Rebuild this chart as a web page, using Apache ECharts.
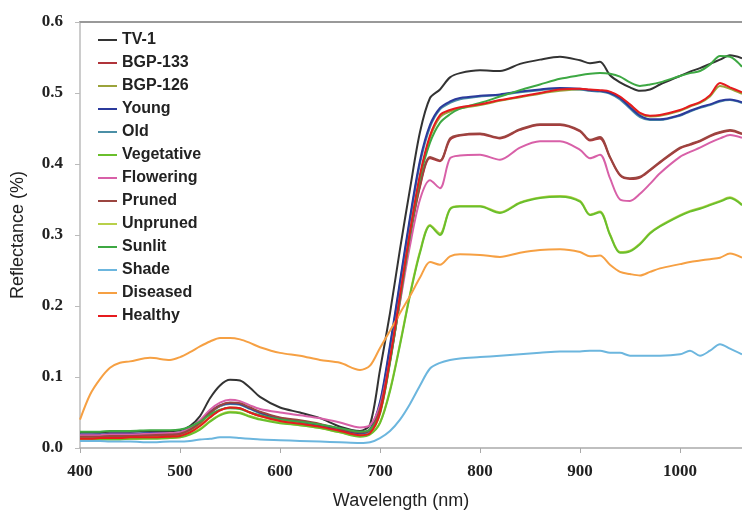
<!DOCTYPE html>
<html>
<head>
<meta charset="utf-8">
<script src="https://cdn.jsdelivr.net/npm/echarts@6/dist/echarts.min.js"></script>
<style>
  html, body { margin: 0; padding: 0; background: #fff; }
  #chart { width: 742px; height: 513px; }
</style>
</head>
<body>
<div id="chart"></div>
<script>
// wavelength (nm)
const wavelengths = [400,410,420,430,440,450,470,490,500,510,520,530,540,550,560,570,580,600,620,640,660,680,690,700,710,720,730,740,750,760,770,780,800,820,840,860,880,900,910,920,930,940,950,960,970,980,1000,1010,1020,1030,1040,1050,1062];

const yTicks = [0, 0.1, 0.2, 0.3, 0.4, 0.5, 0.6];

const tv1 = [0.022,0.022,0.022,0.023,0.023,0.023, 0.024,0.024,0.025,
  0.031,0.045,0.07,0.088,0.096,0.095,0.085,0.072, 0.057,0.05,0.042,0.03,0.024,
  0.033,0.11,0.19,0.28,0.365,0.445,0.493,0.505,0.522,0.528,
  0.532,0.531,0.541,0.547,0.551,0.546, 0.542,0.544,0.525,0.515,0.508,0.503,0.505,0.512,
  0.524,0.53,0.535,0.541,0.547,0.553,0.549];
const bgp133 = [0.015,0.015,0.016,0.016,0.016,0.017, 0.017,0.018,0.019,
  0.025,0.035,0.049,0.059,0.063,0.062,0.056,0.05, 0.042,0.038,0.033,0.026,0.021,
  0.025,0.053,0.122,0.207,0.297,0.368,0.408,0.404,0.434,0.44,
  0.442,0.436,0.448,0.455,0.455,0.446, 0.433,0.436,0.409,0.384,0.379,0.381,0.391,0.402,
  0.422,0.427,0.432,0.439,0.444,0.447,0.442];
const bgp126 = [0.014,0.014,0.014,0.015,0.015,0.015, 0.016,0.016,0.017,
  0.023,0.032,0.044,0.053,0.057,0.056,0.05,0.045, 0.038,0.034,0.03,0.024,0.018,
  0.021,0.048,0.122,0.212,0.302,0.382,0.437,0.466,0.474,0.478,
  0.483,0.489,0.494,0.499,0.503,0.505, 0.504,0.503,0.501,0.494,0.483,0.471,0.467,0.468,
  0.475,0.481,0.486,0.495,0.51,0.506,0.499];
const young = [0.019,0.019,0.019,0.02,0.02,0.02, 0.021,0.021,0.022,
  0.028,0.038,0.051,0.06,0.063,0.062,0.056,0.05, 0.042,0.037,0.032,0.026,0.021,
  0.026,0.065,0.145,0.235,0.325,0.405,0.455,0.479,0.488,0.493,
  0.496,0.498,0.502,0.505,0.507,0.506, 0.504,0.503,0.5,0.493,0.48,0.468,0.463,0.463,
  0.469,0.475,0.48,0.484,0.489,0.491,0.487];
const old = [0.018,0.018,0.019,0.019,0.019,0.02, 0.02,0.021,0.021,
  0.027,0.037,0.05,0.059,0.062,0.061,0.055,0.049, 0.041,0.037,0.032,0.026,0.02,
  0.025,0.062,0.141,0.231,0.321,0.401,0.452,0.477,0.486,0.491,
  0.495,0.497,0.501,0.504,0.506,0.505, 0.503,0.502,0.499,0.491,0.478,0.466,0.462,0.462,
  0.468,0.474,0.479,0.483,0.488,0.49,0.486];
const vegetative = [0.011,0.011,0.012,0.012,0.012,0.013, 0.013,0.014,0.015,
  0.019,0.026,0.037,0.046,0.05,0.049,0.044,0.04, 0.035,0.032,0.028,0.022,0.016,
  0.019,0.035,0.08,0.145,0.215,0.275,0.313,0.3,0.336,0.34,
  0.34,0.331,0.345,0.352,0.354,0.347, 0.328,0.332,0.3,0.275,0.277,0.287,0.302,0.312,
  0.327,0.333,0.337,0.342,0.347,0.352,0.342];
const flowering = [0.018,0.018,0.018,0.019,0.019,0.019, 0.02,0.021,0.022,
  0.028,0.039,0.054,0.064,0.068,0.066,0.06,0.055, 0.05,0.046,0.042,0.036,0.029,
  0.032,0.06,0.125,0.205,0.285,0.35,0.377,0.366,0.408,0.412,
  0.413,0.406,0.423,0.432,0.432,0.42, 0.408,0.413,0.38,0.35,0.348,0.358,0.372,0.387,
  0.41,0.417,0.423,0.43,0.436,0.441,0.437];
const pruned = [0.016,0.016,0.016,0.017,0.017,0.017, 0.018,0.019,0.02,
  0.026,0.036,0.05,0.06,0.064,0.063,0.057,0.051, 0.043,0.039,0.034,0.027,0.022,
  0.026,0.055,0.125,0.21,0.3,0.37,0.41,0.405,0.436,0.441,
  0.443,0.437,0.449,0.456,0.456,0.447, 0.434,0.438,0.41,0.385,0.38,0.382,0.392,0.403,
  0.423,0.428,0.433,0.44,0.445,0.448,0.443];
const unpruned = [0.012,0.012,0.012,0.013,0.013,0.013, 0.014,0.014,0.015,
  0.02,0.027,0.038,0.047,0.051,0.05,0.045,0.041, 0.036,0.032,0.028,0.022,0.017,
  0.02,0.036,0.082,0.147,0.217,0.277,0.314,0.302,0.337,0.341,
  0.341,0.332,0.346,0.353,0.355,0.348, 0.329,0.333,0.301,0.276,0.278,0.288,0.303,0.313,
  0.328,0.334,0.338,0.343,0.348,0.353,0.343];
const sunlit = [0.023,0.023,0.023,0.024,0.024,0.024, 0.025,0.025,0.026,
  0.03,0.037,0.047,0.054,0.056,0.055,0.05,0.046, 0.04,0.037,0.033,0.028,0.023,
  0.026,0.05,0.12,0.21,0.3,0.38,0.43,0.458,0.47,0.478,
  0.486,0.495,0.504,0.512,0.52,0.525, 0.527,0.528,0.527,0.523,0.515,0.51,0.512,0.515,
  0.524,0.528,0.531,0.54,0.552,0.551,0.537];
const shade = [0.01,0.01,0.01,0.009,0.009,0.009, 0.008,0.009,0.009,
  0.01,0.012,0.013,0.015,0.015,0.014,0.013,0.012, 0.011,0.01,0.009,0.008,0.007,
  0.008,0.014,0.024,0.04,0.062,0.088,0.112,0.12,0.124,0.126,
  0.128,0.13,0.132,0.134,0.136,0.136, 0.137,0.137,0.134,0.134,0.13,0.13,0.13,0.13,
  0.132,0.137,0.13,0.137,0.146,0.14,0.132];
const diseased = [0.04,0.075,0.097,0.113,0.12,0.122, 0.127,0.124,0.128,
  0.135,0.143,0.15,0.155,0.155,0.153,0.148,0.142, 0.134,0.13,0.124,0.12,0.11,
  0.116,0.141,0.165,0.19,0.214,0.24,0.262,0.258,0.27,0.273,
  0.272,0.269,0.275,0.279,0.28,0.276, 0.27,0.271,0.258,0.248,0.245,0.243,0.248,0.253,
  0.259,0.262,0.264,0.266,0.268,0.274,0.268];
const healthy = [0.013,0.013,0.014,0.014,0.014,0.015, 0.015,0.016,0.017,
  0.022,0.031,0.043,0.053,0.057,0.056,0.05,0.045, 0.038,0.034,0.03,0.024,0.018,
  0.021,0.05,0.125,0.215,0.305,0.385,0.44,0.469,0.476,0.48,
  0.484,0.49,0.495,0.5,0.505,0.506, 0.505,0.504,0.502,0.495,0.484,0.472,0.468,0.469,
  0.476,0.482,0.487,0.497,0.514,0.508,0.501];

const seriesNames = ['TV-1', 'BGP-133', 'BGP-126', 'Young', 'Old', 'Vegetative', 'Flowering', 'Pruned', 'Unpruned', 'Sunlit', 'Shade', 'Diseased', 'Healthy'];
const seriesData = [tv1, bgp133, bgp126, young, old, vegetative, flowering, pruned, unpruned, sunlit, shade, diseased, healthy];
const seriesColors = ['#333333', '#b0343a', '#9ba33b', '#2b3a9c', '#4b8fa6', '#6abf2c', '#d860a8', '#9b4540', '#b8d04a', '#3da843', '#6cb6de', '#f6a043', '#e61b1e'];
// these lie under other curves in the picture
const behind = ['BGP-133', 'BGP-126', 'Old', 'Unpruned'];

const labelFont = {
  fontFamily: 'Liberation Serif, Times New Roman, serif',
  fontWeight: 'bold',
  fontSize: 17,
  color: '#222'
};

const myChart = echarts.init(document.getElementById('chart'));
const option = {
  animation: false,
  backgroundColor: '#fff',
  legend: {
    orient: 'vertical',
    left: 98,
    top: 32,
    padding: 0,
    itemWidth: 19,
    itemHeight: 2,
    itemGap: 7,
    icon: 'rect',
    data: seriesNames,
    textStyle: {
      fontFamily: 'Liberation Sans, Arial, sans-serif',
      fontWeight: 'bold',
      fontSize: 16,
      lineHeight: 16,
      color: '#222'
    }
  },
  grid: {
    left: 80,
    right: 0,
    top: 22,
    bottom: 65,
    outerBoundsMode: 'none'
  },
  xAxis: [
    {
      type: 'value',
      min: 400,
      max: 1062,
      interval: 100,
      name: 'Wavelength (nm)',
      nameLocation: 'middle',
      nameGap: 44,
      nameTextStyle: {
        fontFamily: 'Liberation Sans, Arial, sans-serif',
        fontSize: 18,
        color: '#222',
        padding: [0, 20, 0, 0]
      },
      axisLine: { show: true, lineStyle: { color: '#aaa', width: 1.5 } },
      axisTick: { show: true, length: 5, lineStyle: { color: '#aaa' } },
      axisLabel: Object.assign({
        margin: 15,
        showMaxLabel: false,
        formatter: function (v) { return String(v); }
      }, labelFont),
      splitLine: { show: false }
    },
    {
      type: 'value',
      position: 'top',
      min: 400,
      max: 1062,
      axisLine: { show: true, lineStyle: { color: '#999', width: 2 } },
      axisTick: { show: false },
      axisLabel: { show: false },
      splitLine: { show: false }
    }
  ],
  yAxis: {
    type: 'value',
    min: 0,
    max: 0.6,
    interval: 0.1,
    name: 'Reflectance (%)',
    nameLocation: 'middle',
    nameGap: 53,
    nameTextStyle: {
      fontFamily: 'Liberation Sans, Arial, sans-serif',
      fontSize: 18,
      color: '#222'
    },
    axisLine: { show: true, lineStyle: { color: '#bbb', width: 1.5 } },
    axisTick: { show: true, length: 5, lineStyle: { color: '#bbb' } },
    axisLabel: Object.assign({
      margin: 17,
      formatter: function (v) {
        return yTicks.indexOf(Math.round(v * 10) / 10) >= 0 ? v.toFixed(1) : '';
      }
    }, labelFont),
    splitLine: { show: false }
  },
  series: seriesNames.map(function (name, i) {
    return {
      name: name,
      type: 'line',
      xAxisIndex: 0,
      z: behind.indexOf(name) >= 0 ? 1 : 2,
      data: wavelengths.map(function (w, j) { return [w, seriesData[i][j]]; }),
      showSymbol: false,
      symbol: 'none',
      smooth: 0.3,
      color: seriesColors[i],
      lineStyle: { width: 2, color: seriesColors[i] }
    };
  })
};
myChart.setOption(option);
</script>
</body>
</html>
